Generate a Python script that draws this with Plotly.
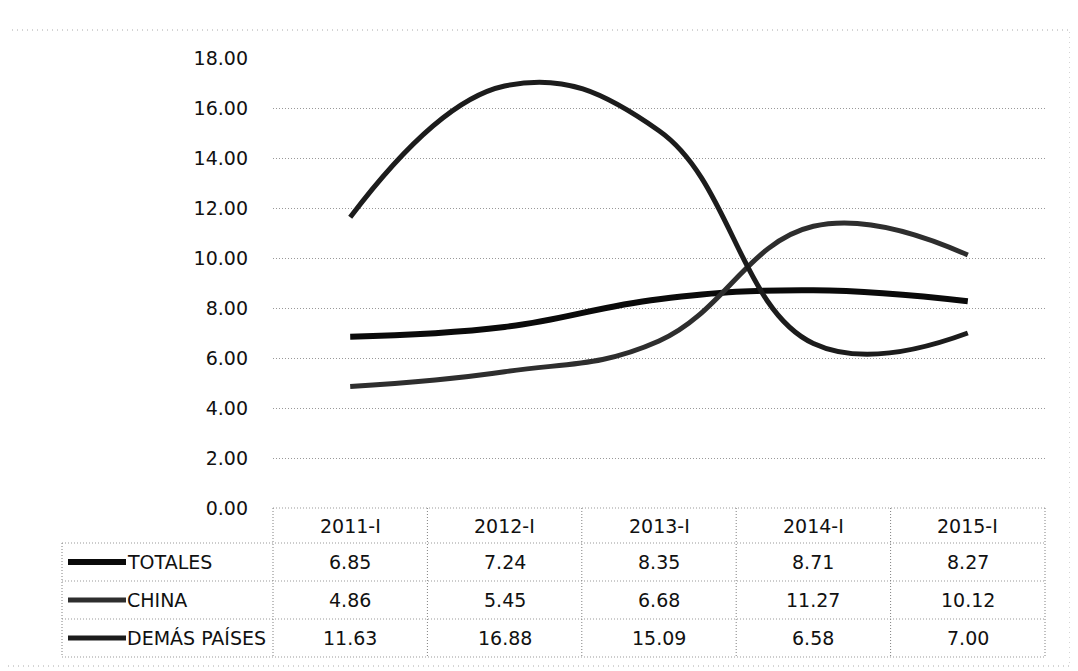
import plotly.graph_objects as go

categories = ["2011-I", "2012-I", "2013-I", "2014-I", "2015-I"]
series_names = ["TOTALES", "CHINA", "DEMÁS PAÍSES"]
totales = [6.85, 7.24, 8.35, 8.71, 8.27]
china = [4.86, 5.45, 6.68, 11.27, 10.12]
demas = [11.63, 16.88, 15.09, 6.58, 7.00]
y_ticks = [0, 2, 4, 6, 8, 10, 12, 14, 16, 18]

series_values = [totales, china, demas]
line_colors = ["#0a0a0a", "#2e2e2e", "#1c1c1c"]
line_widths = [6, 5, 5]

# the page body adds an 8px margin around the figure
OFF = 8
W, H = 1070, 663
ML, MT = 265, 50
MR = W - (1045 - OFF)
MB = H - (508 - OFF)
PW, PH = W - ML - MR, H - MT - MB


def px(x):
    return (x - OFF - ML) / PW


def py(y):
    return (H - MB - (y - OFF)) / PH


FONT = "DejaVu Sans, Verdana, sans-serif"
GRID = "#999999"
DOT = "1px,2px"
TXT = "#111111"
FS = 19

fig = go.Figure()
for name, vals, col, lw in zip(series_names, series_values, line_colors, line_widths):
    fig.add_trace(go.Scatter(
        x=categories, y=vals, name=name, mode="lines",
        line=dict(color=col, width=lw, shape="spline", smoothing=1.2),
        showlegend=False,
    ))

n = len(categories)
shapes = []
annotations = []

row_edges = [508, 543, 581, 619, 657]
table_left = 62

shapes.append(dict(type="line", xref="paper", yref="paper", x0=0, x1=1,
                   y0=py(row_edges[0]), y1=py(row_edges[0]),
                   line=dict(color=GRID, width=1, dash=DOT)))
for ye in row_edges[1:]:
    shapes.append(dict(type="line", xref="paper", yref="paper",
                       x0=px(table_left), x1=1, y0=py(ye), y1=py(ye),
                       line=dict(color=GRID, width=1, dash=DOT)))
for i in range(n + 1):
    shapes.append(dict(type="line", xref="paper", yref="paper",
                       x0=i / n, x1=i / n, y0=py(row_edges[0]), y1=py(row_edges[-1]),
                       line=dict(color="#808080", width=1, dash=DOT)))
shapes.append(dict(type="line", xref="paper", yref="paper",
                   x0=px(table_left), x1=px(table_left), y0=py(row_edges[1]), y1=py(row_edges[-1]),
                   line=dict(color="#808080", width=1, dash=DOT)))

# outer chart border
shapes.append(dict(type="rect", xref="paper", yref="paper",
                   x0=px(3), x1=px(1070), y0=py(666), y1=py(30),
                   line=dict(color="#aaaaaa", width=1, dash="1px,4px")))

hdr_y = py((row_edges[0] + row_edges[1]) / 2)
for c in categories:
    annotations.append(dict(x=c, xref="x", y=hdr_y, yref="paper", text=c,
                            showarrow=False, xanchor="center", yanchor="middle",
                            font=dict(family=FONT, size=FS, color=TXT)))

for r, (name, vals, col, lw) in enumerate(zip(series_names, series_values, line_colors, line_widths)):
    yc = py((row_edges[r + 1] + row_edges[r + 2]) / 2)
    shapes.append(dict(type="line", xref="paper", yref="paper",
                       x0=px(68), x1=px(126), y0=yc, y1=yc,
                       line=dict(color=col, width=lw)))
    annotations.append(dict(x=px(125), xref="paper", y=yc, yref="paper", text=name,
                            showarrow=False, xanchor="left", yanchor="middle",
                            font=dict(family=FONT, size=FS, color=TXT)))
    for c, v in zip(categories, vals):
        annotations.append(dict(x=c, xref="x", y=yc, yref="paper", text=f"{v:.2f}",
                                showarrow=False, xanchor="center", yanchor="middle",
                                font=dict(family=FONT, size=FS, color=TXT)))

fig.update_layout(
    width=W, height=H,
    margin=dict(l=ML, r=MR, t=MT, b=MB),
    paper_bgcolor="white", plot_bgcolor="white",
    shapes=shapes, annotations=annotations,
    xaxis=dict(type="category", categoryorder="array", categoryarray=categories,
               range=[-0.5, n - 0.5], showticklabels=False, showgrid=False,
               zeroline=False, showline=False, ticks=""),
    yaxis=dict(range=[0, 18], tickvals=y_ticks, ticktext=[f"{t:.2f}" for t in y_ticks],
               showgrid=True, gridcolor=GRID, gridwidth=1, griddash=DOT,
               zeroline=False, showline=False, ticks="", ticklabelstandoff=24,
               tickfont=dict(family=FONT, size=FS, color=TXT)),
    font=dict(family=FONT),
)

fig.write_html("out.html")
